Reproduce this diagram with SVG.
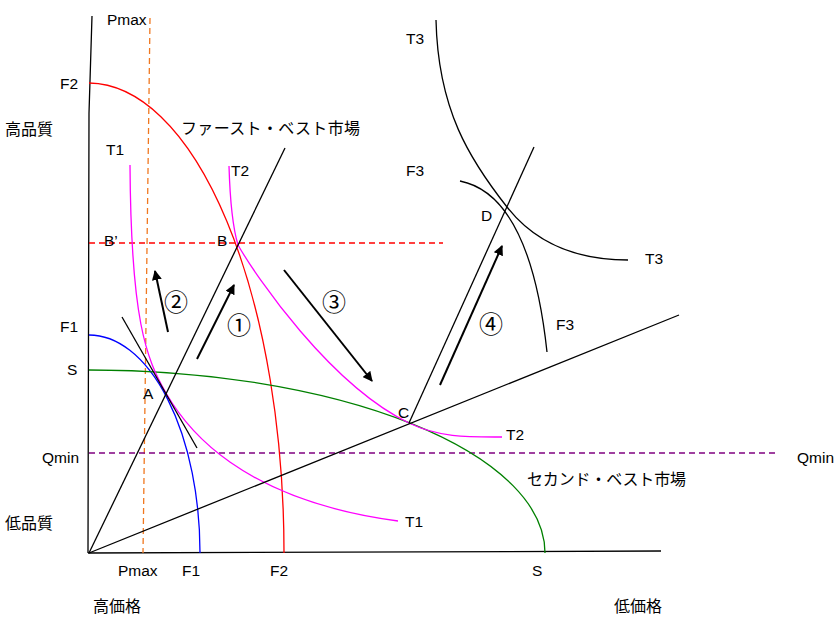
<svg xmlns="http://www.w3.org/2000/svg" width="838" height="618" viewBox="0 0 838 618">
<style>
.t{font-family:"Liberation Sans","Noto Sans CJK JP",sans-serif;font-size:15.5px;fill:#000}
.j{font-family:"Noto Sans CJK JP","Liberation Sans",sans-serif;font-size:16px;fill:#000}
.n{font-family:"Noto Sans CJK JP","DejaVu Sans",sans-serif;font-size:24px;fill:#000;text-anchor:middle}
.c{fill:none;stroke-width:1.3}
.ax{fill:none;stroke:#000;stroke-width:1.3}
.arr{fill:none;stroke:#000;stroke-width:2;marker-end:url(#ah)}
</style>
<defs>
<marker id="ah" viewBox="0 0 10 10" refX="9" refY="5" markerWidth="5" markerHeight="5" orient="auto"><path d="M0,0 L10,5 L0,10 z" fill="#000"/></marker>
</defs>
<rect width="838" height="618" fill="#fff"/>
<g id="axes">
<polyline class="ax" points="92,16 89,113 88,553"/>
<line class="ax" x1="88" y1="553" x2="661" y2="551"/>
</g>
<g id="guides">
<line x1="150" y1="18" x2="143" y2="553" stroke="#f07820" stroke-width="1.3" stroke-dasharray="6,4"/>
<line x1="89" y1="243" x2="443" y2="243" stroke="#f00" stroke-width="1.3" stroke-dasharray="6,4"/>
<line x1="89" y1="453" x2="779" y2="453" stroke="#800080" stroke-width="1.3" stroke-dasharray="6,4"/>
</g>
<g id="curves">
<path id="F2curve" class="c" stroke="#f00" d="M89,83 A196,470 0 0 1 284,553"/>
<path id="F1curve" class="c" stroke="#00f" d="M89,335 A111,218 0 0 1 200,553"/>
<path id="Scurve" class="c" stroke="#008000" d="M89,370 A456,183 0 0 1 545,553"/>
<path id="T1curve" class="c" stroke="#f0f" d="M130,165 C131,320 146,358 166,393 C186,428 240,500 398,521"/>
<path id="T2curve" class="c" stroke="#f0f" d="M229,166 C230,200 232,225 238,245 C255,275 330,385 409,423 C440,438 470,437 502,437"/>
<path id="T3curve" class="c" stroke="#000" d="M436,20 C438,110 470,160 507,207 C540,249 585,260 628,260"/>
<path id="F3curve" class="c" stroke="#000" d="M460,181 Q530,195 547,352"/>
</g>
<g id="connectors">
<line class="ax" x1="89" y1="553" x2="285" y2="148"/>
<line class="ax" x1="89" y1="553" x2="679" y2="315"/>
<line class="ax" x1="409" y1="423" x2="534" y2="147"/>
<line class="ax" x1="122" y1="317" x2="197" y2="448"/>
<line class="arr" x1="197" y1="359" x2="234" y2="285"/>
<line class="arr" x1="168" y1="332" x2="155" y2="271"/>
<line class="arr" x1="284" y1="270" x2="372" y2="381"/>
<line class="arr" x1="440" y1="385" x2="502" y2="246"/>
</g>
<g id="labels">
<text class="t" x="107" y="25">Pmax</text>
<text class="t" x="60" y="89">F2</text>
<text class="j" x="5" y="135">高品質</text>
<text class="j" x="181" y="134" textLength="179">ファースト・ベスト市場</text>
<text class="t" x="106" y="155">T1</text>
<text class="t" x="231" y="176">T2</text>
<text class="t" x="104" y="246">B’</text>
<text class="t" x="217" y="246">B</text>
<text class="t" x="60" y="332">F1</text>
<text class="t" x="67" y="375">S</text>
<text class="t" x="143" y="399">A</text>
<text class="t" x="42" y="463">Qmin</text>
<text class="j" x="5" y="529">低品質</text>
<text class="t" x="118" y="576">Pmax</text>
<text class="t" x="182" y="576">F1</text>
<text class="t" x="270" y="576">F2</text>
<text class="t" x="532" y="576">S</text>
<text class="j" x="93" y="612">高価格</text>
<text class="j" x="614" y="612">低価格</text>
<text class="t" x="406" y="44">T3</text>
<text class="t" x="406" y="176">F3</text>
<text class="t" x="481" y="221">D</text>
<text class="t" x="645" y="264">T3</text>
<text class="t" x="556" y="330">F3</text>
<text class="t" x="398" y="418">C</text>
<text class="t" x="506" y="440">T2</text>
<text class="t" x="797" y="463">Qmin</text>
<text class="j" x="527" y="485" textLength="159">セカンド・ベスト市場</text>
<text class="t" x="405" y="527">T1</text>
<text class="n" x="239" y="334">①</text>
<text class="n" x="176" y="311">②</text>
<text class="n" x="334" y="311">③</text>
<text class="n" x="491" y="333">④</text>
</g>
</svg>
